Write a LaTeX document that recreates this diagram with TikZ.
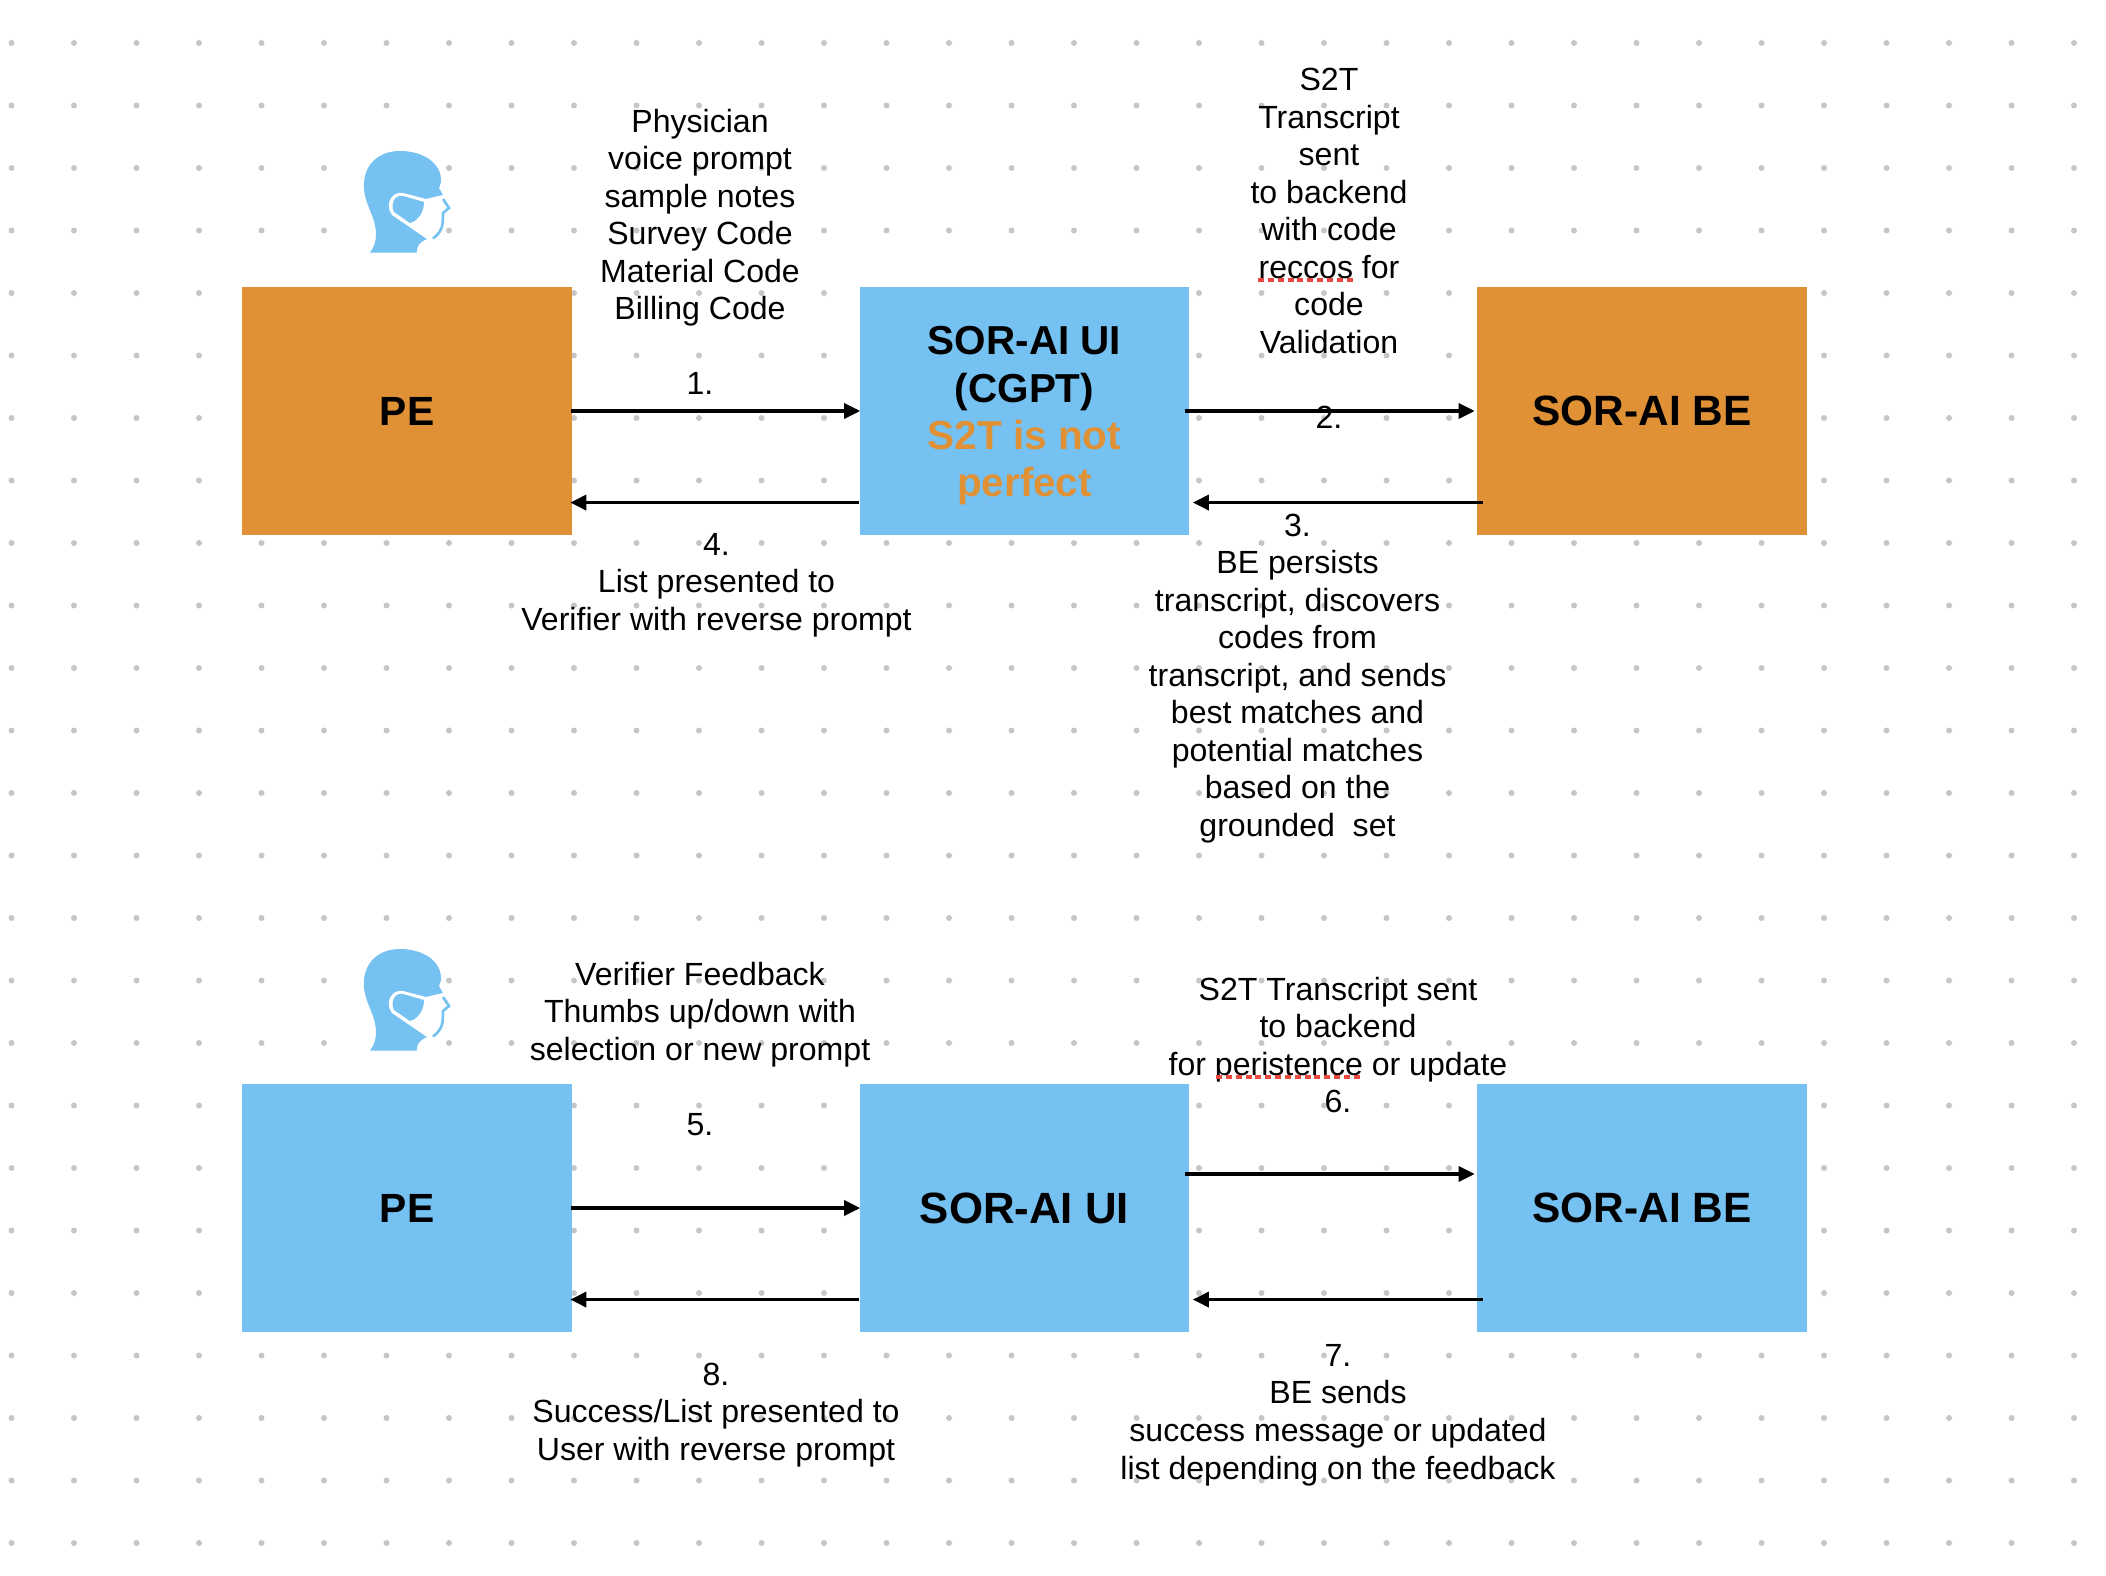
\documentclass[tikz,border=0pt]{standalone}
\usepackage{fontspec}
\setmainfont{Liberation Sans}
\usetikzlibrary{arrows.meta}
\definecolor{boxorange}{HTML}{E09035}
\definecolor{boxblue}{HTML}{75C1F2}
\definecolor{griddot}{HTML}{C6C6C6}
\definecolor{spellred}{HTML}{E8483F}
\begin{document}
\begin{tikzpicture}[
  x=0.01cm,
  y=-0.01cm,
  block/.style={
    minimum width=3.29cm,
    minimum height=2.485cm,
    inner sep=0pt,
    align=center,
    font=\fontsize{12.05}{13.45}\selectfont\bfseries
  },
  note/.style={
    inner sep=0pt,
    align=center,
    font=\fontsize{9.12}{10.67}\selectfont
  },
  flow/.style={-{Triangle[length=1.6mm,width=1.5mm]}, line width=0.95pt, draw=black},
  spell/.style={draw=spellred, line width=1.15pt, dash pattern=on 1.7pt off 1.1pt},
  maskhead/.pic={
    \fill[boxblue] (50,132.7) .. controls (58,122) and (57,110) .. (53,98)
      .. controls (48,85) and (43,75) .. (44,63)
      .. controls (45,43) and (60,31) .. (80,31)
      .. controls (103,31) and (122,43) .. (121,62)
      -- (119,68) -- (123,75) -- (107,119)
      .. controls (100,122) and (97,125) .. (96.7,132.7) -- cycle;
    \fill[white] (123,75) -- (106,79) -- (83,73)
      .. controls (72,71) and (64,84) .. (72,95)
      -- (107,119) -- (113,119) -- (125,88) -- cycle;
    \fill[boxblue] (104,82) -- (83,76)
      .. controls (75,74) and (70,84) .. (74,92)
      -- (90,103) .. controls (100,100) and (104,90) .. (104,82) -- cycle;
    \draw[boxblue, line width=0.75pt] (123,79) -- (129,88) -- (123,93) -- (122.7,103)
      .. controls (122,110) and (118,115) .. (113,118.5);
  }
]
  \useasboundingbox (0,0) rectangle (2106,1576);

  % dot grid
  \foreach \row in {0,...,24}
    \foreach \col in {0,...,33}
      \fill[griddot] (11.5+62.5*\col,43+62.5*\row) circle (3);

  \pic at (320,120) {maskhead};
  \pic at (320,918) {maskhead};

  % top row
  \node[block, fill=boxorange, font=\fontsize{11.6}{13.45}\selectfont\bfseries] (pe1) at (407,411) {PE};
  \node[block, fill=boxblue] (ui1) at (1024.5,411) {};
  \node[block, font=\fontsize{11.5}{13.45}\selectfont\bfseries] (ui1text) at (1024.5,416) {SOR-AI UI\\(CGPT)\\\textcolor{boxorange}{S2T is not}\\\textcolor{boxorange}{perfect}};
  \node[block, fill=boxorange] (be1) at (1642,411) {SOR-AI BE};

  % bottom row
  \node[block, fill=boxblue, font=\fontsize{11.6}{13.45}\selectfont\bfseries] (pe2) at (407,1208) {PE};
  \node[block, fill=boxblue, font=\fontsize{12.45}{13.45}\selectfont\bfseries] (ui2) at (1024.5,1208) {SOR-AI UI};
  \node[block, fill=boxblue] (be2) at (1642,1208) {SOR-AI BE};

  \draw[flow] ([xshift=-.01cm]pe1.east) -- ([xshift=.01cm]ui1.west);
  \draw[flow] ([xshift=-.05cm]ui1.east) -- ([xshift=-.02cm]be1.west);
  \draw[flow] ([xshift=.06cm,yshift=-.915cm]be1.west) -- ([xshift=.03cm,yshift=-.915cm]ui1.east);
  \draw[flow] ([yshift=-.915cm]ui1.west) -- ([xshift=-.02cm,yshift=-.915cm]pe1.east);

  \draw[flow] ([xshift=-.01cm]pe2.east) -- ([xshift=.01cm]ui2.west);
  \draw[flow] ([xshift=-.05cm,yshift=.34cm]ui2.east) -- ([xshift=-.02cm,yshift=.34cm]be2.west);
  \draw[flow] ([xshift=.06cm,yshift=-.915cm]be2.west) -- ([xshift=.03cm,yshift=-.915cm]ui2.east);
  \draw[flow] ([yshift=-.915cm]ui2.west) -- ([xshift=-.02cm,yshift=-.915cm]pe2.east);

  \node[note] (t1) at (700,252) {Physician\\voice prompt\\sample notes\\Survey Code\\Material Code\\Billing Code\\~\\1.};
  \node[note] (t2) at (1329,248.5) {S2T\\Transcript\\sent\\to backend\\with code\\reccos for\\code\\Validation\\~\\2.};
  \node[note] (t3) at (1297.5,678.5) {3.\\BE persists\\transcript, discovers\\codes from\\transcript, and sends\\best matches and\\potential matches\\based on the\\grounded\ \ set};
  \node[note] (t4) at (716.5,585) {4.\\List presented to\\Verifier with reverse prompt};
  \node[note] (t5) at (700,1049) {Verifier Feedback\\Thumbs up/down with\\selection or new prompt\\~\\5.};
  \node[note] (t6) at (1338,1045) {S2T Transcript sent\\to backend\\for peristence or update\\6.};
  \node[note] (t7) at (1338,1415) {7.\\BE sends\\success message or updated\\list depending on the feedback};
  \node[note] (t8) at (716,1415) {8.\\Success/List presented to\\User with reverse prompt};

  \draw[spell] (1258,280) -- (1354,280);
  \draw[spell] (1216,1077) -- (1362,1077);
\end{tikzpicture}
\end{document}
